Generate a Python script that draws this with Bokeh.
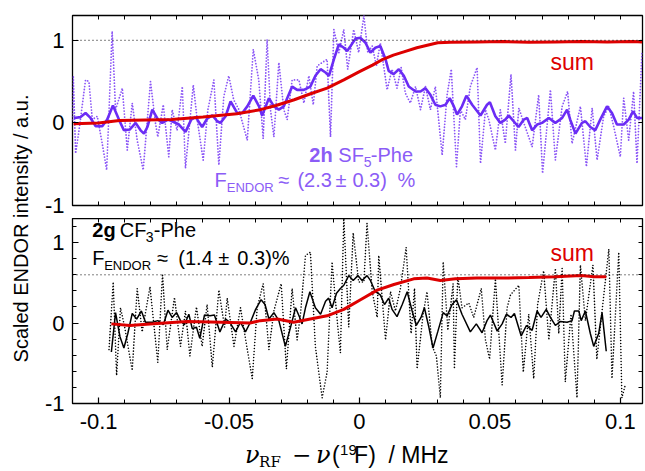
import math
from bokeh.plotting import figure
from bokeh.layouts import column, row
from bokeh.models import Range1d, FixedTicker, LinearAxis, Span, Label
from bokeh.embed import file_html
from bokeh.resources import INLINE

# ---------------- data ----------------
# top panel: 2h SF5-Phe
top_raw_x = [-0.1100, -0.1097, -0.1088, -0.1075, -0.1050, -0.1037, -0.1024, -0.1005, -0.0986, -0.0969,
             -0.0948, -0.0935, -0.0909, -0.0890, -0.0871, -0.0852, -0.0829, -0.0801, -0.0782, -0.0773,
             -0.0752, -0.0731, -0.0718, -0.0699, -0.0679, -0.0667, -0.0637, -0.0622, -0.0599, -0.0581,
             -0.0558, -0.0539, -0.0520, -0.0501, -0.0482, -0.0462, -0.0430, -0.0407, -0.0386, -0.0369,
             -0.0354, -0.0341, -0.0328, -0.0309, -0.0290, -0.0277, -0.0258, -0.0232, -0.0213, -0.0194,
             -0.0177, -0.0162, -0.0143, -0.0124, -0.0111, -0.0098, -0.0079, -0.0060, -0.0045, -0.0022,
             -0.0003, 0.0017, 0.0032, 0.0049, 0.0065, 0.0080, 0.0106, 0.0125, 0.0144, 0.0160,
             0.0176, 0.0195, 0.0215, 0.0234, 0.0253, 0.0272, 0.0291, 0.0317, 0.0336, 0.0352,
             0.0372, 0.0387, 0.0406, 0.0425, 0.0451, 0.0464, 0.0483, 0.0496, 0.0521, 0.0540,
             0.0559, 0.0581, 0.0598, 0.0611, 0.0630, 0.0662, 0.0687, 0.0702, 0.0732, 0.0751,
             0.0777, 0.0798, 0.0815, 0.0847, 0.0870, 0.0892, 0.0911, 0.0936, 0.0956, 0.0975,
             0.1000, 0.1013, 0.1032, 0.1051, 0.1064, 0.1083]
top_raw_y = [0.04, 0.57, -0.37, -0.09, 0.52, 0.50, 0.04, 0.08, -0.25, -0.57,
             1.11, 0.16, 0.42, -0.33, 0.24, -0.21, -0.57, 0.50, 0.00, -0.17,
             0.22, -0.41, 0.16, -0.09, 0.44, -0.55, 0.46, 0.04, -0.45, 0.16,
             0.52, -0.51, 0.32, 0.57, 0.28, 0.16, -0.21, 0.89, 0.52, -0.19,
             1.01, 0.16, -0.17, 0.73, 0.16, 0.04, 0.52, 0.52, 0.24, 0.57,
             0.22, 0.69, 0.73, 0.77, -0.17, 1.13, 0.85, 1.13, 0.65, 1.13,
             0.85, 1.30, 0.85, 0.93, 0.69, 0.97, 0.40, 0.65, 0.42, 0.67,
             0.36, 0.24, 0.44, 0.16, 0.44, 0.16, 0.44, -0.39, 0.34, 0.65,
             -0.53, 0.16, 0.04, 0.44, 0.67, -0.49, 0.16, 0.04, -0.33, 0.16,
             -0.25, 0.59, -0.33, 0.18, 0.00, -0.29, 0.34, -0.61, 0.40, -0.45,
             0.20, 0.38, -0.25, 0.20, -0.53, 0.18, -0.45, 0.08, 0.20, -0.05,
             -0.41, 0.30, -0.21, 0.38, -0.49, 0.85]

top_smooth_x = [-0.1095, -0.1069, -0.1050, -0.1031, -0.1011, -0.0986, -0.0967, -0.0945, -0.0922, -0.0903,
                -0.0880, -0.0858, -0.0839, -0.0826, -0.0813, -0.0794, -0.0772, -0.0756, -0.0734, -0.0718,
                -0.0692, -0.0667, -0.0645, -0.0628, -0.0603, -0.0584, -0.0564, -0.0545, -0.0533, -0.0513,
                -0.0494, -0.0469, -0.0449, -0.0430, -0.0407, -0.0385, -0.0373, -0.0347, -0.0328, -0.0309,
                -0.0290, -0.0258, -0.0239, -0.0213, -0.0188, -0.0169, -0.0149, -0.0130, -0.0117, -0.0098,
                -0.0079, -0.0060, -0.0047, -0.0034, -0.0015, 0.0004, 0.0023, 0.0042, 0.0061, 0.0080,
                0.0100, 0.0112, 0.0131, 0.0151, 0.0170, 0.0189, 0.0215, 0.0234, 0.0253, 0.0272,
                0.0291, 0.0310, 0.0330, 0.0346, 0.0362, 0.0374, 0.0393, 0.0410, 0.0432, 0.0464,
                0.0489, 0.0500, 0.0521, 0.0540, 0.0559, 0.0572, 0.0591, 0.0610, 0.0630, 0.0643,
                0.0662, 0.0681, 0.0700, 0.0726, 0.0751, 0.0777, 0.0796, 0.0808, 0.0828, 0.0853,
                0.0866, 0.0885, 0.0904, 0.0923, 0.0949, 0.0968, 0.0987, 0.1013, 0.1032, 0.1049,
                0.1064, 0.1083]
top_smooth_y = [0.06, 0.07, 0.12, 0.06, -0.04, -0.04, 0.04, 0.21, 0.04, -0.09,
                -0.08, 0.00, -0.09, -0.13, -0.05, 0.16, 0.04, 0.00, 0.04, 0.02,
                -0.02, -0.11, 0.04, 0.07, -0.05, 0.05, 0.09, 0.02, 0.00, 0.08,
                0.26, 0.12, 0.12, 0.20, 0.33, 0.20, 0.09, 0.30, 0.20, 0.16,
                0.20, 0.44, 0.40, 0.40, 0.44, 0.57, 0.65, 0.61, 0.57, 0.77,
                0.95, 0.91, 0.87, 0.93, 1.02, 1.03, 0.97, 0.85, 0.91, 0.93,
                0.77, 0.63, 0.59, 0.65, 0.57, 0.44, 0.38, 0.38, 0.42, 0.34,
                0.22, 0.20, 0.22, 0.30, 0.20, 0.10, 0.20, 0.33, 0.22, 0.09,
                0.22, 0.25, 0.08, 0.00, 0.04, 0.09, 0.02, -0.05, 0.04, 0.06,
                -0.09, -0.02, 0.00, 0.06, 0.00, 0.06, 0.16, 0.04, -0.13, 0.00,
                0.02, -0.05, -0.09, 0.04, 0.20, 0.12, -0.02, -0.02, 0.04, 0.14,
                0.06, 0.06]

top_sum_x = [-0.1096, -0.1000, -0.0920, -0.0720, -0.0600, -0.0470, -0.0380, -0.0320, -0.0250, -0.0190,
             -0.0124, -0.0060, 0.0000, 0.0050, 0.0090, 0.0130, 0.0170, 0.0220, 0.0260, 0.0300,
             0.0350, 0.0450, 0.0550, 0.0650, 0.0750, 0.0850, 0.0950, 0.1050, 0.1084]
top_sum_y = [-0.01, 0.00, 0.03, 0.04, 0.07, 0.11, 0.16, 0.21, 0.28, 0.35,
             0.42, 0.52, 0.62, 0.70, 0.77, 0.82, 0.86, 0.91, 0.94, 0.97,
             0.975, 0.98, 0.985, 0.975, 0.98, 0.985, 0.98, 0.985, 0.98]

# bottom panel: 2g CF3-Phe
bot_raw_x = [-0.0960, -0.0944, -0.0931, -0.0916, -0.0900, -0.0871, -0.0852, -0.0833, -0.0803, -0.0773,
             -0.0755, -0.0737, -0.0709, -0.0686, -0.0667, -0.0650, -0.0625, -0.0603, -0.0584, -0.0564,
             -0.0539, -0.0517, -0.0507, -0.0481, -0.0456, -0.0433, -0.0411, -0.0392, -0.0369, -0.0347,
             -0.0328, -0.0300, -0.0280, -0.0258, -0.0239, -0.0226, -0.0207, -0.0188, -0.0169, -0.0143,
             -0.0124, -0.0105, -0.0083, -0.0073, -0.0060, -0.0041, -0.0024, -0.0003, 0.0017, 0.0029,
             0.0049, 0.0068, 0.0074, 0.0100, 0.0119, 0.0138, 0.0157, 0.0179, 0.0198, 0.0211,
             0.0221, 0.0244, 0.0259, 0.0279, 0.0295, 0.0310, 0.0321, 0.0339, 0.0359, 0.0364,
             0.0377, 0.0393, 0.0419, 0.0438, 0.0467, 0.0483, 0.0499, 0.0521, 0.0547, 0.0566,
             0.0579, 0.0611, 0.0628, 0.0649, 0.0668, 0.0683, 0.0706, 0.0726, 0.0751, 0.0764,
             0.0777, 0.0789, 0.0811, 0.0834, 0.0847, 0.0866, 0.0895, 0.0910, 0.0930, 0.0956,
             0.0968, 0.0994, 0.1006, 0.1019]
bot_raw_y = [-0.33, 0.51, -0.65, 0.19, -0.05, -0.59, 0.43, -0.11, 0.45, -0.49,
             0.61, -0.33, 0.32, -0.29, 0.15, -0.41, 0.20, -0.29, 0.23, -0.55,
             0.41, -0.05, 0.31, -0.29, 0.19, -0.27, -0.69, 0.19, 0.49, -0.33,
             0.15, 0.49, -0.57, 0.43, -0.21, 0.11, 0.84, 0.88, -0.29, -0.93,
             -0.61, 0.76, -0.05, -0.37, 1.30, -0.05, 1.12, 0.51, 0.51, 1.24,
             0.39, 0.07, 0.84, -0.21, 0.39, 0.15, 0.43, 0.94, -0.13, 0.43,
             -0.57, 0.11, 0.39, -0.29, -0.41, -0.93, 0.76, -0.09, 0.49, -0.57,
             0.58, 0.19, 0.25, 0.07, 0.43, -0.21, -0.45, 0.55, -0.77, 0.19,
             0.35, 0.47, -0.61, 0.11, -0.69, 0.23, 0.65, -0.21, 0.68, -0.13,
             0.68, -0.73, 0.11, -0.93, 0.72, 0.03, 0.72, -0.45, 0.15, 0.92,
             -0.69, 0.88, -0.93, -0.77]

bot_smooth_x = [-0.0951, -0.0935, -0.0918, -0.0903, -0.0888, -0.0871, -0.0854, -0.0836, -0.0820, -0.0794,
                -0.0773, -0.0752, -0.0734, -0.0718, -0.0701, -0.0686, -0.0671, -0.0654, -0.0641, -0.0625,
                -0.0612, -0.0594, -0.0573, -0.0556, -0.0535, -0.0513, -0.0497, -0.0475, -0.0456, -0.0437,
                -0.0418, -0.0398, -0.0377, -0.0362, -0.0347, -0.0328, -0.0309, -0.0284, -0.0264, -0.0245,
                -0.0229, -0.0220, -0.0207, -0.0190, -0.0169, -0.0149, -0.0130, -0.0118, -0.0105, -0.0088,
                -0.0073, -0.0060, -0.0041, -0.0024, -0.0006, 0.0010, 0.0029, 0.0042, 0.0061, 0.0080,
                0.0096, 0.0112, 0.0125, 0.0144, 0.0164, 0.0183, 0.0202, 0.0218, 0.0236, 0.0249,
                0.0266, 0.0282, 0.0300, 0.0321, 0.0336, 0.0355, 0.0372, 0.0393, 0.0425, 0.0448,
                0.0470, 0.0489, 0.0502, 0.0528, 0.0547, 0.0563, 0.0581, 0.0594, 0.0620, 0.0640,
                0.0662, 0.0681, 0.0696, 0.0716, 0.0732, 0.0751, 0.0770, 0.0796, 0.0815, 0.0824,
                0.0841, 0.0850, 0.0866, 0.0885, 0.0898, 0.0917, 0.0930, 0.0946]
bot_smooth_y = [-0.36, 0.13, -0.17, -0.31, -0.13, 0.12, 0.05, 0.15, 0.01, 0.01,
                0.03, -0.02, 0.16, 0.07, 0.13, 0.03, -0.02, 0.11, -0.07, -0.05,
                -0.19, 0.10, 0.09, 0.10, -0.11, 0.05, 0.01, -0.11, 0.01, -0.11,
                0.01, 0.17, 0.29, 0.23, 0.05, 0.13, 0.03, -0.29, -0.05, 0.19,
                0.07, -0.01, 0.19, 0.39, 0.19, 0.11, 0.27, 0.31, 0.19, 0.37,
                0.43, 0.47, 0.59, 0.53, 0.59, 0.53, 0.59, 0.53, 0.39, 0.35,
                0.23, 0.31, 0.17, 0.08, 0.23, 0.39, 0.15, -0.03, 0.07, 0.19,
                -0.05, -0.31, -0.11, 0.13, 0.09, 0.23, 0.29, 0.11, -0.11, -0.01,
                -0.12, 0.03, 0.10, -0.10, -0.01, 0.11, 0.07, 0.12, -0.16, -0.03,
                -0.09, 0.15, 0.07, 0.17, 0.07, -0.03, 0.02, 0.01, 0.03, 0.15,
                0.15, 0.03, 0.15, -0.13, -0.29, -0.13, 0.13, -0.35]

bot_sum_x = [-0.0951, -0.0880, -0.0790, -0.0660, -0.0530, -0.0420, -0.0380, -0.0315, -0.0252, -0.0188,
             -0.0124, -0.0060, 0.0004, 0.0068, 0.0132, 0.0208, 0.0259, 0.0310, 0.0368, 0.0450,
             0.0550, 0.0650, 0.0750, 0.0850, 0.0900, 0.0946]
bot_sum_y = [-0.01, -0.03, -0.01, 0.02, 0.01, 0.00, 0.03, 0.05, 0.01, 0.05,
             0.09, 0.17, 0.29, 0.41, 0.48, 0.55, 0.56, 0.53, 0.55, 0.56,
             0.56, 0.565, 0.575, 0.59, 0.575, 0.575]

top_ref_level = 1.0
bot_ref_level = 0.6

x_major = [-0.1, -0.05, 0.0, 0.05, 0.1]
x_major_labels = ["-0.1", "-0.05", "0", "0.05", "0.1"]
y_major = [-1.0, 0.0, 1.0]
y_major_labels = ["-1", "0", "1"]

# ---------------- styling ----------------
FONT = "Liberation Sans"
SERIF = "DejaVu Serif"
TICK_FS = "22px"
PURPLE = "#6b2cf5"
PURPLE_RAW = "#8a55f6"
PURPLE_TEXT = "#8b5cf6"
RED = "#dd0000"
X_RANGE = (-0.11, 0.1085)
Y_RANGE = (-1.0, 1.3)
STRIP_W = 34
PANEL_W = 611
BASE_FIX = 0.35   # label baseline correction, fraction of font size

x_minor = [round(-0.11 + 0.01 * i, 2) for i in range(22)]
y_minor_bot = [round(-1.0 + 0.2 * i, 1) for i in range(12)]


def style_axis(ax, labels, overrides=None, standoff=0):
    ax.axis_line_color = None
    ax.major_tick_in = 6
    ax.major_tick_out = 0
    ax.minor_tick_in = 4
    ax.minor_tick_out = 0
    ax.major_tick_line_color = "black"
    ax.minor_tick_line_color = "black"
    ax.major_tick_line_width = 1.2
    ax.minor_tick_line_width = 1.0
    if labels:
        ax.major_label_text_font = FONT
        ax.major_label_text_font_size = TICK_FS
        ax.major_label_text_color = "black"
        ax.major_label_overrides = overrides
        ax.major_label_standoff = standoff
    else:
        ax.major_label_standoff = 0


def make_panel(height, top_border, bottom_border, show_xlabels, y_minor):
    p = figure(width=PANEL_W, height=height, x_range=Range1d(*X_RANGE), y_range=Range1d(*Y_RANGE),
               output_backend="svg", toolbar_location=None,
               x_axis_location=None, y_axis_location=None,
               min_border_left=38, min_border_right=3,
               min_border_top=top_border, min_border_bottom=bottom_border)
    p.xgrid.visible = False
    p.ygrid.visible = False
    p.outline_line_color = "black"
    p.outline_line_width = 1.3
    p.background_fill_color = "white"
    p.border_fill_color = "white"
    yl = LinearAxis(ticker=FixedTicker(ticks=y_major, minor_ticks=y_minor))
    style_axis(yl, True, dict(zip(y_major, y_major_labels)), 8)
    p.add_layout(yl, "left")
    yr = LinearAxis(ticker=FixedTicker(ticks=[], minor_ticks=sorted(set(y_major + y_minor))))
    style_axis(yr, False)
    p.add_layout(yr, "right")
    xa = LinearAxis(ticker=FixedTicker(ticks=[], minor_ticks=x_minor))
    style_axis(xa, False)
    p.add_layout(xa, "above")
    if show_xlabels:
        xb = LinearAxis(ticker=FixedTicker(ticks=x_major, minor_ticks=x_minor))
        style_axis(xb, True, dict(zip(x_major, x_major_labels)), 10)
    else:
        xb = LinearAxis(ticker=FixedTicker(ticks=[], minor_ticks=x_minor))
        style_axis(xb, False)
    p.add_layout(xb, "below")
    return p


def add_pieces(p, x, y, pieces, color):
    for text, dx, dy, size, style, font in pieces:
        px = float(size.replace("px", ""))
        p.add_layout(Label(x=x, y=y, x_offset=dx, y_offset=dy + BASE_FIX * px, text=text,
                           text_font=font, text_font_size=size, text_font_style=style,
                           text_color=color, text_baseline="alphabetic", text_align="left"))


# ---------------- top panel ----------------
top = make_panel(218, 15, 13, False, [])
top.add_layout(Span(location=top_ref_level, dimension="width", line_color="black",
                    line_dash="1 3", line_width=1))
top.line(top_raw_x, top_raw_y, line_color=PURPLE_RAW, line_dash="0 3", line_cap="round", line_width=1.8)
top.line(top_smooth_x, top_smooth_y, line_color=PURPLE, line_width=2.6)
top.line(top_sum_x, top_sum_y, line_color=RED, line_width=3)

add_pieces(top, -0.0192, -0.476, [
    ("2h", 0, 0, "20px", "bold", FONT),
    ("SF", 29, 0, "20px", "normal", FONT),
    ("5", 54.5, -5, "14px", "normal", FONT),
    ("-Phe", 61.5, 0, "20px", "normal", FONT),
], PURPLE_TEXT)
add_pieces(top, -0.0556, -0.779, [
    ("F", 0, 0, "20px", "normal", FONT),
    ("ENDOR", 12.3, -5, "13px", "normal", FONT),
    ("\u2248", 64, 0, "20px", "normal", FONT),
    ("(2.3", 83, 0, "20px", "normal", FONT),
    ("\u00b1", 121, 0, "20px", "normal", FONT),
    ("0.3)", 138, 0, "20px", "normal", FONT),
    ("%", 183, 0, "20px", "normal", FONT),
], PURPLE_TEXT)
add_pieces(top, 0.0732, 0.643, [("sum", 0, 0, "23px", "normal", FONT)], RED)

# ---------------- bottom panel ----------------
bot = make_panel(218, 0, 33, True, y_minor_bot)
bot.add_layout(Span(location=bot_ref_level, dimension="width", line_color="black",
                    line_dash="1 3", line_width=1))
bot.line(bot_raw_x, bot_raw_y, line_color="black", line_dash="0 3", line_cap="round", line_width=1.6)
bot.line(bot_smooth_x, bot_smooth_y, line_color="black", line_width=1.5)
bot.line(bot_sum_x, bot_sum_y, line_color=RED, line_width=3)

add_pieces(bot, -0.1024, 1.067, [
    ("2g", 0, 0, "20px", "bold", FONT),
    ("CF", 27.5, 0, "20px", "normal", FONT),
    ("3", 53.5, -5, "14px", "normal", FONT),
    ("-Phe", 61.5, 0, "20px", "normal", FONT),
], "black")
add_pieces(bot, -0.1024, 0.716, [
    ("F", 0, 0, "20px", "normal", FONT),
    ("ENDOR", 11.8, -5, "13px", "normal", FONT),
    ("\u2248", 65, 0, "20px", "normal", FONT),
    ("(1.4", 86, 0, "20px", "normal", FONT),
    ("\u00b1", 126, 0, "20px", "normal", FONT),
    ("0.3)%", 145, 0, "20px", "normal", FONT),
], "black")
add_pieces(bot, 0.0732, 0.765, [("sum", 0, 0, "23px", "normal", FONT)], RED)

# ---------------- x-axis label strip ----------------
xlab = figure(width=PANEL_W, height=35, x_range=Range1d(0, PANEL_W), y_range=Range1d(0, 35),
              output_backend="svg", toolbar_location=None,
              x_axis_location=None, y_axis_location=None,
              min_border_left=0, min_border_right=0, min_border_top=0, min_border_bottom=0)
xlab.xgrid.visible = False
xlab.ygrid.visible = False
xlab.outline_line_color = None
add_pieces(xlab, 185, 8, [
    ("\u03bd", 0, 0, "24px", "italic", SERIF),
    ("RF", 14, -4, "15px", "normal", SERIF),
    ("\u2212", 47, 0, "23px", "normal", SERIF),
    ("\u03bd", 71, 0, "24px", "italic", SERIF),
    ("(", 87, 0, "23px", "normal", FONT),
    ("19", 95, 8, "15px", "normal", FONT),
    ("F)\u00a0\u00a0/ MHz", 109, 0, "23px", "normal", FONT),
], "black")

# ---------------- y-axis label strip ----------------
ylab = figure(width=STRIP_W, height=471, x_range=Range1d(0, STRIP_W), y_range=Range1d(0, 471),
              output_backend="svg", toolbar_location=None,
              x_axis_location=None, y_axis_location=None,
              min_border_left=0, min_border_right=0, min_border_top=0, min_border_bottom=0)
ylab.xgrid.visible = False
ylab.ygrid.visible = False
ylab.outline_line_color = None
ylab.add_layout(Label(x=20, y=243, text="Scaled ENDOR intensity / a.u.", angle=math.pi / 2,
                      text_font=FONT, text_font_size="20px", text_align="center",
                      text_baseline="middle", text_color="black"))

layout = row(ylab, column(top, bot, xlab))
open("out.html", "w").write(file_html(layout, INLINE))
